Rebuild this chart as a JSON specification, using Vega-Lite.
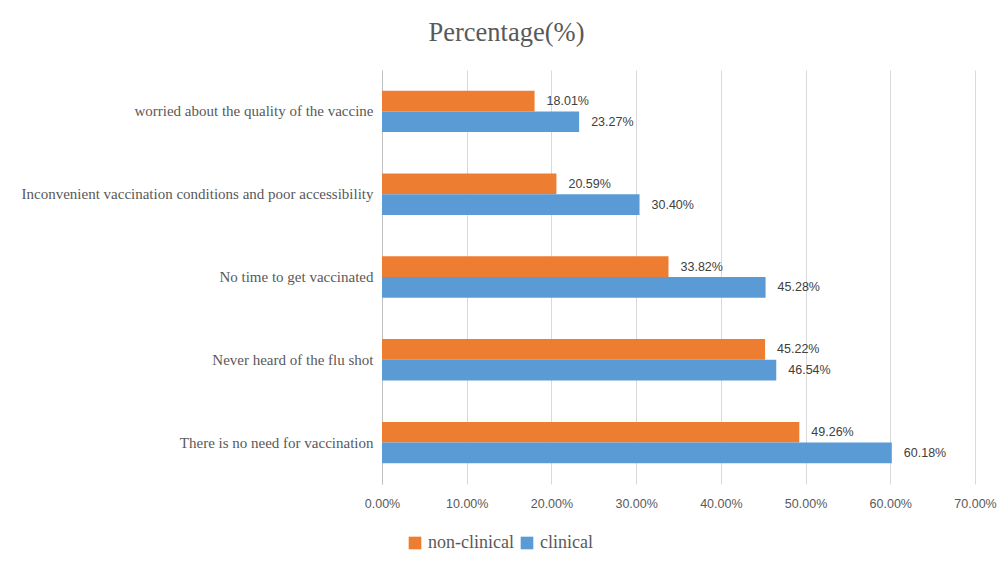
{
  "$schema": "https://vega.github.io/schema/vega-lite/v6.json",
  "autosize": "none",
  "width": 593,
  "height": 414,
  "padding": {"left": 382, "top": 70, "right": 30, "bottom": 87},
  "background": "white",
  "title": {
    "text": "Percentage(%)",
    "font": "Liberation Serif",
    "fontSize": 26.5,
    "fontWeight": "normal",
    "color": "#595959",
    "anchor": "middle",
    "dx": -172,
    "offset": 24
  },
  "data": {
    "values": [
      {"reason": "worried about the quality of the vaccine", "group": "non-clinical", "pct": 0.1801},
      {"reason": "worried about the quality of the vaccine", "group": "clinical", "pct": 0.2327},
      {"reason": "Inconvenient vaccination conditions and poor accessibility", "group": "non-clinical", "pct": 0.2059},
      {"reason": "Inconvenient vaccination conditions and poor accessibility", "group": "clinical", "pct": 0.3040},
      {"reason": "No time to get vaccinated", "group": "non-clinical", "pct": 0.3382},
      {"reason": "No time to get vaccinated", "group": "clinical", "pct": 0.4528},
      {"reason": "Never heard of the flu shot", "group": "non-clinical", "pct": 0.4522},
      {"reason": "Never heard of the flu shot", "group": "clinical", "pct": 0.4654},
      {"reason": "There is no need for vaccination", "group": "non-clinical", "pct": 0.4926},
      {"reason": "There is no need for vaccination", "group": "clinical", "pct": 0.6018}
    ]
  },
  "encoding": {
    "y": {
      "field": "reason",
      "type": "nominal",
      "sort": null,
      "title": null,
      "scale": {"paddingInner": 0.5, "paddingOuter": 0.25},
      "axis": {
        "domainColor": "#bfbfbf",
        "ticks": false,
        "labelPadding": 9,
        "labelFont": "Liberation Serif",
        "labelFontSize": 15,
        "labelColor": "#595959",
        "labelLimit": 400
      }
    },
    "yOffset": {
      "field": "group",
      "type": "nominal",
      "sort": ["non-clinical", "clinical"]
    },
    "x": {
      "field": "pct",
      "type": "quantitative",
      "title": null,
      "scale": {"domain": [0, 0.7], "nice": false},
      "axis": {
        "format": ".2%",
        "values": [0, 0.1, 0.2, 0.3, 0.4, 0.5, 0.6, 0.7],
        "domain": false,
        "ticks": false,
        "grid": true,
        "gridColor": "#d9d9d9",
        "labelFlush": false,
        "labelPadding": 13,
        "labelFont": "Liberation Sans",
        "labelFontSize": 12.5,
        "labelColor": "#595959"
      }
    }
  },
  "layer": [
    {
      "mark": {"type": "bar"},
      "encoding": {
        "color": {
          "field": "group",
          "type": "nominal",
          "scale": {"domain": ["non-clinical", "clinical"], "range": ["#ED7D31", "#5B9BD5"]},
          "legend": {
            "title": null,
            "orient": "none",
            "direction": "horizontal",
            "legendX": 24,
            "legendY": 464,
            "symbolType": "square",
            "symbolSize": 160,
            "symbolStrokeWidth": 0,
            "labelFont": "Liberation Serif",
            "labelFontSize": 18,
            "labelColor": "#595959",
            "labelOffset": 4,
            "columnPadding": 4,
            "encode": {
              "labels": {
                "update": {
                  "font": {"value": "Liberation Serif"},
                  "fontSize": {"value": 18},
                  "fill": {"value": "#595959"}
                }
              }
            }
          }
        }
      }
    },
    {
      "mark": {
        "type": "text",
        "align": "left",
        "baseline": "middle",
        "dx": 12,
        "font": "Liberation Sans",
        "fontSize": 12.5,
        "color": "#404040"
      },
      "encoding": {
        "text": {"field": "pct", "type": "quantitative", "format": ".2%"}
      }
    }
  ],
  "config": {
    "view": {"stroke": null}
  }
}
